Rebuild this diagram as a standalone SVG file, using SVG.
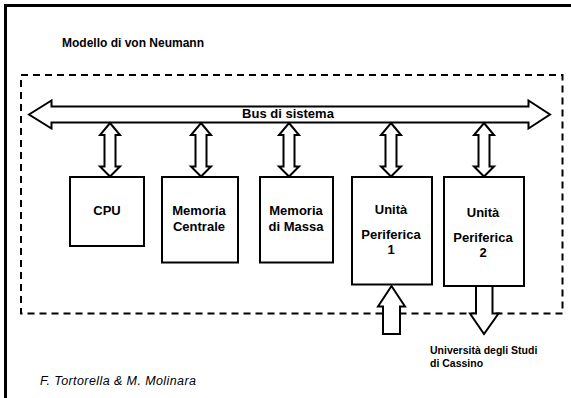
<svg xmlns="http://www.w3.org/2000/svg" width="571" height="398" viewBox="0 0 571 398">
<style>
  .frame{fill:none;stroke:#000;stroke-width:3}
  .dash{fill:none;stroke:#000;stroke-width:2;stroke-dasharray:7 5}
  .box{fill:#fff;stroke:#000;stroke-width:2}
  .arr{fill:#fff;stroke:#000;stroke-width:2;stroke-linejoin:miter}
  .lbl{font-family:"Liberation Sans",Arial,sans-serif;font-weight:bold;font-size:13px;fill:#000;text-anchor:middle}
  .title{font-family:"Liberation Sans",Arial,sans-serif;font-weight:bold;font-size:12px;fill:#000}
  .foot{font-family:"Liberation Sans",Arial,sans-serif;font-style:italic;font-size:12.5px;fill:#000}
  .uni{font-family:"Liberation Sans",Arial,sans-serif;font-weight:bold;font-size:10.5px;fill:#000}
</style>
<rect width="571" height="398" fill="#fff"/>
<rect class="frame" x="5.5" y="5.5" width="700" height="500"/>
<text class="title" x="62" y="47">Modello di von Neumann</text>
<rect class="dash" x="21" y="75" width="541.5" height="238.5"/>
<g id="connectors">
  <polygon class="arr" points="29,114.5 51.5,100.5 51.5,106.5 528.5,106.5 528.5,100.5 550,114.5 528.5,128.5 528.5,122.5 51.5,122.5 51.5,128.5"/>
  <polygon class="arr" points="110,123 120,135 115.5,135 115.5,166.5 120,166.5 110,176.5 100,166.5 104.5,166.5 104.5,135 100,135"/>
  <polygon class="arr" points="201,123 211,135 206.5,135 206.5,166.5 211,166.5 201,176.5 191,166.5 195.5,166.5 195.5,135 191,135"/>
  <polygon class="arr" points="289,123 299,135 294.5,135 294.5,166.5 299,166.5 289,176.5 279,166.5 283.5,166.5 283.5,135 279,135"/>
  <polygon class="arr" points="391,123 401,135 396.5,135 396.5,166.5 401,166.5 391,176.5 381,166.5 385.5,166.5 385.5,135 381,135"/>
  <polygon class="arr" points="484,123 494,135 489.5,135 489.5,166.5 494,166.5 484,176.5 474,166.5 478.5,166.5 478.5,135 474,135"/>
  <polygon class="arr" points="391.5,286 405,306.5 400,306.5 400,334 383,334 383,306.5 378,306.5"/>
  <polygon class="arr" points="476,286 492.5,286 492.5,313.5 498.5,313.5 484,334 470,313.5 476,313.5"/>
</g>
<text x="288" y="118" class="lbl" font-size="12.5">Bus di sistema</text>
<g id="cpu">
  <rect class="box" x="70" y="177" width="74" height="69"/>
  <text class="lbl" x="107" y="215">CPU</text>
</g>
<g id="memoria-centrale">
  <rect class="box" x="162" y="177" width="76" height="85.5"/>
  <text class="lbl" x="199" y="215">Memoria</text>
  <text class="lbl" x="199" y="231">Centrale</text>
</g>
<g id="memoria-massa">
  <rect class="box" x="260" y="177" width="73" height="85.5"/>
  <text class="lbl" x="296" y="215">Memoria</text>
  <text class="lbl" x="296" y="231">di Massa</text>
</g>
<g id="periferica1">
  <rect class="box" x="352" y="177" width="80" height="107.5"/>
  <text class="lbl" x="391" y="214">Unità</text>
  <text class="lbl" x="391" y="239">Periferica</text>
  <text class="lbl" x="391" y="254">1</text>
</g>
<g id="periferica2">
  <rect class="box" x="444" y="177" width="80" height="109"/>
  <text class="lbl" x="483" y="217">Unità</text>
  <text class="lbl" x="483" y="242">Periferica</text>
  <text class="lbl" x="483" y="257">2</text>
</g>
<text class="foot" x="40" y="385" textLength="156" lengthAdjust="spacing">F. Tortorella &amp; M. Molinara</text>
<text class="uni" x="430" y="354">Università degli Studi</text>
<text class="uni" x="430" y="367">di Cassino</text>
</svg>
